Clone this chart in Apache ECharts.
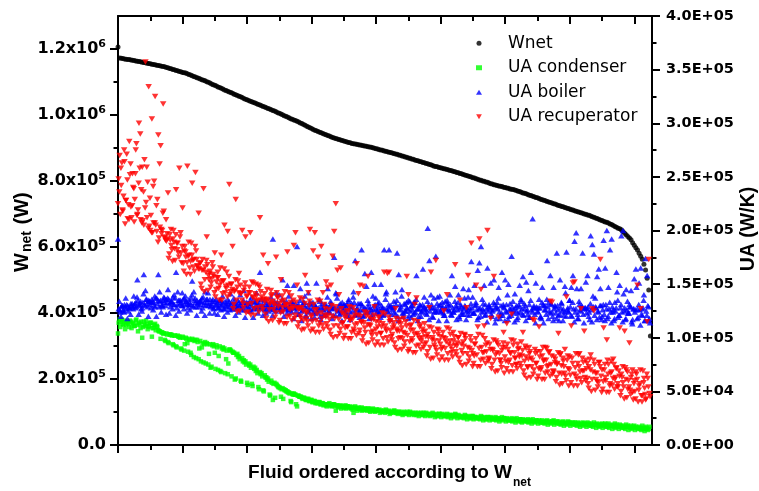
<!DOCTYPE html>
<html><head><meta charset="utf-8">
<script src="https://cdn.jsdelivr.net/npm/echarts@6/dist/echarts.min.js"></script>
<style>html,body{margin:0;padding:0;background:#fff}#c{width:759px;height:491px}</style>
</head><body><div id="c"></div>
<script>
// ---- data ----
const STEP = 5;            // fluid-index spacing of the sampled points
const OFFSET_B = 2;        // second sample set (fluids 2,7,12,...)
const OFFSET_C = 4;        // third sample set (fluids 4,9,14,...)
const X_MAX = 1655;        // number of fluids on the x axis
const xMajorTicks = [0,200,400,600,800,1000,1200,1400,1600];
const xMinorTicks = [100,300,500,700,900,1100,1300,1500];
const wnetTicks = [0,200000,400000,600000,800000,1000000,1200000];
const wnetMinorTicks = [100000,300000,500000,700000,900000,1100000];
const seriesNames = ['Wnet','UA condenser','UA boiler','UA recuperator'];

// Wnet in kW
const wnetKW = [1206,1173,
1172,1171,1170,1169,1168,1168,1167,1166,1165,1164,1163,1162,1161,1160,1159,
1158,1157,1156,1155,1154,1153,1152,1151,1150,1149,1148,1147,1146,
1144,1143,1141,1140,1138,1137,1135,1134,1132,1131,1129,1128,
1127,1125,1123,1121,1119,1117,1115,1113,1111,1109,1107,1105,1104,
1101,1099,1097,1094,1092,1090,1088,1085,1083,1081,1079,1076,
1074,1072,1070,1068,1066,1063,1061,1059,1057,1055,1053,1050,1048,1046,
1044,1042,1040,1038,1036,1034,1032,1030,1028,1026,1024,1022,1020,1018,1016,
1014,1012,1010,1007,1005,1003,1001,998,996,994,992,989,987,985,983,981,
979,976,974,971,969,966,964,961,959,956,954,
952,950,948,946,944,942,940,938,936,934,932,930,
929,927,926,924,923,921,920,918,917,916,914,913,912,
911,910,909,908,907,906,905,904,903,902,901,899,
898,897,895,894,893,891,890,889,887,886,885,883,882,
881,879,878,876,875,873,872,870,869,867,866,864,
862,861,859,858,856,855,853,852,850,849,847,845,
844,843,841,840,839,837,836,835,833,832,831,829,828,
826,825,823,822,820,818,817,815,814,812,810,809,807,805,
803,802,800,799,797,796,794,792,791,789,788,
786,785,784,783,781,780,779,778,776,775,774,773,
771,769,768,766,764,763,761,759,757,756,754,752,
750,749,747,745,743,742,740,738,736,735,733,731,730,
728,726,725,723,722,720,718,717,715,713,712,710,
708,707,705,704,702,700,699,697,696,694,692,690,
688,686,684,682,680,678,676,675,673,
670,668,665,662,660,657,655,652,
647,642,637,632,627,622,
613,605,598,591,
581,572,563,
548,530,505,470,330];

// UA values in kW/K, fluids 0,5,10,...
const uaCondenserKW = [104,117,115,113,116,112,114,110,115,113,111,116,112,114,109,100,115,111,113,110,114,101,109,113,111,
107,106,105,104,98,104,96,103,103,94,102,92,102,101,90,101,88,100,95,99,86,99,82,98,98,80,97,91,77,96,95,75,94,73,94,86,93,70,92,68,91,90,80,66,89,88,
87,86,62,85,83,60,81,79,78,58,76,75,57,73,72,70,54,68,67,51,65,63,62,47,60,42,58,57,55,54,45,53,52,51,50,49,41,48,48,47,36,46,
45,44,44,43,42,43,41,42,40,41,
40,39,40,38,39,38,37,38,39,37,
37,38,32,37,36,37,36,35,37,36,
35,36,35,30,36,34,35,34,35,33,
34,33,34,32,33,34,32,33,32,33,
32,31,32,33,31,32,30,31,32,31,
30,31,30,29,31,30,29,30,31,29,
30,29,28,30,29,30,28,29,30,28,
29,28,30,28,29,27,29,28,29,27,
28,29,27,28,27,28,29,27,28,26,
27,26,28,26,27,26,25,27,26,25,
26,25,27,25,26,24,26,25,26,24,
25,26,24,25,24,26,25,24,25,23,
24,25,23,24,25,23,24,22,24,23,
23,24,22,23,24,22,23,22,23,21,
23,22,21,23,22,21,22,23,21,22,
22,21,20,22,21,20,22,21,20,21,
21,20,21,19,20,21,20,19,21,20,
20,19,21,19,20,19,18,20,19,20,
19,20,18,19,18,20,19,17,19,18,
18,17,19,18,17,18,16,18,17,16,
17,16,18,15,17,16,15];
const uaCondenserKW_b = [114,110,117,112,108,115,113,116,109,114,111,117,106,113,115,110,112,116,108,111,114,109,112,107,110,
106,99,105,104,97,103,95,103,102,93,
102,91,101,100,89,100,94,99,87,98,
84,98,97,81,96,90,78,95,94,76,
94,85,72,93,92,71,91,83,69,90,
89,67,88,76,89,64,
86,61,84,82,80,59,78,77,75,56,
74,72,55,71,69,67,52,66,64,50,
63,61,59,46,58,57,44,56,54,53,
52,43,51,50,49,48,40,47,47,38,
46,45,
45,43,44,42,43,41,42,40,41,39,
39,40,38,39,37,38,36,38,37,36,
38,36,37,35,36,34,36,35,34,36,
35,34,33,35,34,32,34,33,32,34,
33,32,34,31,33,32,31,33,32,30,
31,32,30,32,31,29,31,30,32,30,
29,31,30,28,30,29,31,28,30,29,
28,30,29,27,29,28,30,27,29,28,
27,29,28,26,28,27,29,26,28,27,
27,26,28,25,27,26,28,25,27,26,
26,25,27,24,26,25,27,24,26,25,
25,24,26,23,25,24,26,23,25,24,
24,23,25,22,24,23,25,22,24,23,
23,22,24,21,23,22,24,21,23,22,
22,21,23,20,22,21,23,20,22,21,
21,20,22,19,21,20,22,19,21,20,
20,19,21,18,20,19,21,18,20,19,
19,18,20,17,19,18,20,17,19,18,
18,17,19,16,18,17,19,16,18,17,
17,16,18,15,17,16,18,15,17,16,
16,15,17,14,16,15,17,14,16,15,
15,14,16,13,15,14,17];

const uaBoilerKW = [192,
126,129,125,131,127,130,128,132,129,
130,133,154,131,134,128,159,144,132,135,
131,136,133,129,137,159,134,130,135,133,
136,145,132,134,138,131,161,143,135,133,
130,137,134,132,136,131,153,143,133,135,
129,134,137,131,143,133,130,136,132,128,
134,131,128,135,130,133,127,132,136,129,
131,127,134,130,128,133,131,126,144,130,
132,128,135,130,127,133,129,131,161,128,
130,126,133,129,131,127,192,134,142,129,
131,127,154,133,128,149,130,126,132,149,
128,185,131,146,125,133,129,151,142,127,
132,124,130,151,126,134,129,122,131,127,
146,125,132,128,175,142,126,130,123,133,
128,125,131,136,124,129,143,172,127,122,
132,182,126,160,148,129,124,161,139,150,
127,132,123,150,128,182,141,125,182,130,
126,134,143,179,159,127,145,123,131,128,
135,125,130,122,133,158,127,131,124,164,
129,126,202,172,140,128,124,176,138,130,
125,133,121,128,135,126,131,158,124,148,
129,140,127,122,146,130,125,138,128,171,
123,149,131,163,170,
185,127,149,122,165,131,151,125,154,128,
133,147,121,161,129,154,124,150,132,176,
126,141,130,123,149,134,157,127,152,122,
131,161,211,128,151,125,136,120,147,130,
126,172,133,158,124,147,129,179,121,154,
132,127,148,180,125,135,147,158,190,198,
122,131,146,179,127,152,158,124,195,187,
178,129,157,164,146,120,191,165,200,147,
182,192,126,133,161,119,149,195,200,128,
145,123,131,144,117,155,164,127,151,165,
121,140,174,158,116];
const uaBoilerKW_b = [127,124,130,126,129,131,125,128,130,127,
132,129,135,130,127,133,131,136,129,134,
128,134,130,137,132,129,135,131,138,130,
133,136,129,134,131,137,128,135,132,130,
136,131,134,128,133,137,130,135,129,132,
131,135,128,133,130,136,132,129,134,127,
130,133,128,135,131,127,134,129,132,126,
133,129,131,127,135,130,128,133,126,131,
129,132,126,134,128,130,127,133,129,131,
127,131,128,125,133,129,126,132,128,130,
128,125,131,127,134,126,129,124,132,128,
125,130,122,128,126,133,121,129,124,131,
127,123,130,125,128,120,132,126,122,129,
124,130,127,121,128,141,125,122,129,126,
131,123,127,120,129,125,133,122,128,124,
126,130,121,127,124,132,128,119,126,131,
123,128,125,130,121,127,143,124,129,122,
128,124,131,120,126,129,123,132,125,127,
121,129,126,133,124,127,120,130,125,128,
127,122,130,125,131,119,128,124,126,139,
124,129,121,127,132,125,122,128,126,130,
126,120,131,124,127,129,122,145,125,128,
123,130,126,119,128,124,132,121,127,125,
129,122,126,131,118,127,124,130,121,128,
125,140,120,126,129,123,128,117,131,124,
127,121,130,125,144,119,126,128,122,129,
124,128,118,131,126,122,129,125,132,120,
127,123,130,116,128,125,121,142,126,124,
129,120,127,124,146,118,126,130,122,128,
123,129,117,126,139,121,128,125,119,130,
126,122,131,118,127,124,129,116,125,143,
121,128,124,141,117,126,123,129,115,127,
124,147,119,126,122,128,116,125,130,118];
const uaBoilerKW_c = [134,120,130,124,137,118,128,122,132,139,
128,138,122,132,125,141,130,136,120,134,
133,126,139,120,135,143,124,129,137,122,
137,123,133,127,140,121,131,125,135,142,
127,139,123,131,126,140,129,137,121,133,
134,125,138,121,136,142,123,130,136,123,
136,122,132,126,139,120,130,124,134,141,
127,137,121,131,124,140,129,135,119,133,
132,125,138,119,134,142,123,128,136,121,
135,123,131,127,138,121,129,125,133,140,
126,136,120,130,123,139,128,134,118,132,
129,122,135,116,131,139,120,125,133,118,
133,119,129,123,136,117,127,121,131,138,
124,134,118,128,121,137,126,132,116,130,
130,121,134,117,132,138,121,126,132,119,
132,120,128,124,135,118,126,122,130,137,
125,133,119,127,122,136,127,131,117,129,
129,122,135,116,131,139,120,125,133,118,
134,119,130,123,136,116,127,120,131,138,
123,134,117,128,120,137,125,132,116,131,
128,123,134,116,130,140,121,124,134,117,
133,118,129,122,137,117,126,121,132,138,
123,133,117,127,120,136,125,131,115,129,
127,120,133,114,129,137,118,123,131,116,
131,117,127,121,134,115,125,119,129,136,
122,132,116,126,119,135,124,130,114,128,
128,119,133,114,130,136,118,123,131,116,
130,118,126,122,133,116,124,120,128,135,
121,133,115,127,118,134,125,129,114,128,
127,120,132,115,129,137,117,124,130,117,
131,116,127,120,133,114,124,118,128,135,
121,131,115,125,118,134,123,129,113,127,
126,118,131,112,127,135,116,121,129,114];

const uaRecuperatorKW = [225,270,242,218,264,228,211,283,222,253,208,275,215,300,210,259,205,357,212,334,200,304,207,325,199,289,203,197,318,193,
190,235,196,186,192,183,238,188,258,179,
221,181,175,260,177,171,244,173,254,167,
216,170,163,239,166,194,158,162,155,159,
179,152,156,149,177,153,205,146,199,243,
150,185,143,229,147,160,141,200,144,194,
139,142,198,152,137,141,135,149,212,138,
177,133,136,169,131,139,134,130,175,137,
132,154,128,135,131,180,127,133,129,186,
198,149,126,
120,128,116,158,123,142,201,119,181,198,
126,175,114,185,142,121,152,147,117,149,
176,199,225,163,140,165,113,122,118,110,
125,116,119,108,121,169,141,149,114,148,
109,120,157,112,117,106,129,115,110,119,
104,113,161,108,160,161,116,103,111,127,
106,114,100,109,118,104,157,140,111,99,
107,131,137,102,110,97,105,113,95,103,
128,161,100,93,172,108,97,101,91,125,
99,140,94,103,89,97,168,92,100,135,
88,96,102,128,158,90,188,85,94,149,
110,192,
145,86,111,93,200,80,118,89,157,84,
95,119,79,88,105,91,113,77,86,122,
93,81,75,89,84,96,105,78,90,72,
85,81,117,116,76,87,110,70,83,79,
91,73,86,134,133,68,80,75,104,84,
66,78,89,138,71,82,111,151,152,64,
76,85,127,69,106,79,62,73,84,127,
125,67,59,77,173,70,109,63,98,75,
57,68,80,61,72,54,109,66,58,106,
70,52,95,63,49,60,68,149,55,127,
46,62,42,115,173];
const uaRecuperatorKW_b = [248,215,263,232,206,271,224,252,212,240,
229,281,219,258,238,209,266,226,245,204,
214,198,246,205,229,193,279,200,218,191,
197,174,191,182,200,172,188,179,194,170,
169,185,159,176,165,188,172,162,181,167,
164,150,173,143,161,168,154,147,170,157,
138,156,146,165,135,153,142,161,149,140,
150,127,144,135,153,125,141,132,147,123,
131,147,121,138,127,150,134,124,143,129,
136,122,145,115,133,140,126,119,142,129,
116,134,124,143,113,131,120,139,127,118,
133,110,127,118,136,108,124,115,130,106,
115,131,105,122,111,134,118,108,127,113,
121,107,130,100,118,125,111,104,127,114,
102,120,110,129,99,117,106,125,113,104,
120,97,114,105,123,95,111,102,117,93,
103,119,93,110,99,122,106,96,115,101,
109,95,118,88,106,113,99,92,115,102,
89,107,97,116,86,104,93,112,100,91,
106,83,100,91,109,81,97,88,103,79,
89,105,79,96,85,108,92,82,101,87,
95,81,104,74,92,99,85,78,101,88,
76,94,84,103,73,91,80,99,87,78,
94,71,88,79,97,69,85,76,91,67,
78,94,68,85,74,97,81,71,90,76,
83,69,92,62,80,87,73,66,89,76,
64,82,72,91,61,79,68,87,75,66,
82,59,76,67,85,57,73,64,79,55,
65,81,55,72,61,84,68,58,77,63,
71,57,80,50,68,75,61,54,77,64,
52,70,60,79,49,67,56,75,63,54,
69,46,63,54,72,44,60,51,66,42,
50,66,40,57,46,69,53,43,62,48];
const uaRecuperatorKW_c = [236,258,219,275,228,247,210,262,223,239,
253,214,244,290,207,236,221,259,202,230,
198,241,207,223,189,262,201,216,194,210,
192,178,201,171,189,196,182,175,198,185,
162,180,170,189,159,177,166,185,173,164,
169,146,163,154,172,144,160,151,166,142,
145,161,135,152,141,164,148,138,157,143,
145,131,154,124,142,149,135,128,151,138,
124,142,132,151,121,139,128,147,135,126,
141,118,135,126,144,116,132,123,138,114,
123,139,113,130,119,142,126,116,135,121,
128,114,137,107,125,132,118,111,134,121,
108,126,116,135,105,123,112,131,119,110,
126,103,120,111,129,101,117,108,123,99,
109,125,99,116,105,128,112,102,121,107,
115,101,124,94,112,119,105,98,121,108,
96,114,104,123,93,111,100,119,107,98,
114,91,108,99,117,89,105,96,111,87,
96,112,86,103,92,115,99,89,108,94,
101,87,110,80,98,105,91,84,107,94,
82,100,90,109,79,97,86,105,93,84,
100,77,94,85,103,75,91,82,97,73,
83,99,73,90,79,102,86,76,95,81,
89,75,98,68,86,93,79,72,95,82,
71,89,79,98,68,86,75,94,82,73,
88,65,82,73,91,63,79,70,85,61,
71,87,61,78,67,90,74,64,83,69,
77,63,86,56,74,81,67,60,83,70,
58,76,66,85,55,73,62,81,69,60,
76,53,70,61,79,51,67,58,73,49,
59,75,49,66,55,78,62,52,71,57,
64,50,73,43,61,68,54,47,70,57,
43,61,51,70,40,58,47,66,54,45];

// ---- chart ----
const toPoints = (arr, off) => arr.map((v, i) => [i * STEP + off, v * 1000]);
const BLACK = '#000';
const lineStyle = { color: BLACK, width: 2 };
const tickStyle = { color: BLACK, width: 2 };

function fmtWnet(v) {
  if (v === 0) return '{m|0.0}';
  const e = Math.floor(Math.log10(v) + 1e-9);
  const m = v / Math.pow(10, e);
  return '{m|' + m.toFixed(1) + 'x10}{s|' + e + '}';
}
function fmtUA(v) {
  if (v === 0) return '0.0E+00';
  const e = Math.floor(Math.log10(v) + 1e-9);
  const m = v / Math.pow(10, e);
  return m.toFixed(1) + 'E+' + String(e).padStart(2, '0');
}
const FONT_LAB = 'DejaVu Sans';
const FONT_T = 'Liberation Sans';

function xAxisDef(pos, ticks, len, withLine) {
  return {
    type: 'value', position: pos, min: 0, max: X_MAX,
    axisLine: { show: withLine, onZero: false, lineStyle: lineStyle },
    axisTick: { show: true, inside: pos === 'top', length: len, lineStyle: tickStyle, customValues: ticks },
    axisLabel: { show: false }, splitLine: { show: false }
  };
}

const option = {
  animation: false,
  backgroundColor: '#fff',
  grid: { left: 118, right: 107, top: 16, bottom: 46, containLabel: false },
  xAxis: [
    xAxisDef('bottom', xMajorTicks, 8, true),
    xAxisDef('bottom', xMinorTicks, 5, false),
    xAxisDef('top', xMajorTicks, 8, true),
    xAxisDef('top', xMinorTicks, 5, false)
  ],
  yAxis: [
    {
      type: 'value', position: 'left', min: 0, max: 1300000,
      axisLine: { show: true, onZero: false, lineStyle: lineStyle },
      axisTick: { show: true, length: 8, lineStyle: tickStyle, customValues: wnetTicks },
      axisLabel: {
        customValues: wnetTicks, margin: 12, formatter: fmtWnet,
        rich: {
          m: { fontFamily: FONT_LAB, fontWeight: 'bold', fontSize: 16, color: BLACK, lineHeight: 20 },
          s: { fontFamily: FONT_LAB, fontWeight: 'bold', fontSize: 11, color: BLACK, lineHeight: 10, verticalAlign: 'top' }
        }
      },
      splitLine: { show: false }
    },
    {
      type: 'value', position: 'left', min: 0, max: 1300000,
      axisLine: { show: false },
      axisTick: { show: true, length: 4.5, lineStyle: tickStyle, customValues: wnetMinorTicks },
      axisLabel: { show: false }, splitLine: { show: false }
    },
    {
      type: 'value', position: 'right', min: 0, max: 400000, interval: 50000,
      axisLine: { show: true, onZero: false, lineStyle: lineStyle },
      axisTick: { show: true, length: 8, lineStyle: tickStyle },
      minorTick: { show: true, splitNumber: 2, length: 4.5, lineStyle: tickStyle },
      axisLabel: { formatter: fmtUA, margin: 14, fontFamily: FONT_LAB, fontWeight: 'bold', fontSize: 14.5, color: BLACK },
      splitLine: { show: false }, minorSplitLine: { show: false }
    }
  ],
  legend: {
    orient: 'vertical', left: 471, top: 26, itemWidth: 6, itemHeight: 5, itemGap: 0,
    symbolKeepAspect: true, selectedMode: false,
    textStyle: { fontFamily: FONT_LAB, fontSize: 17, color: BLACK, lineHeight: 24.5, padding: [0, 0, 0, 21] },
    data: [
      { name: seriesNames[0] },
      { name: seriesNames[1] },
      { name: seriesNames[2] },
      { name: seriesNames[3], icon: 'path://M0,0L10,0L5,8.66Z' }
    ]
  },
  series: [
    { name: seriesNames[0], type: 'scatter', xAxisIndex: 0, yAxisIndex: 0, symbol: 'circle', symbolSize: 5,
      itemStyle: { color: '#000000' }, data: toPoints(wnetKW, 0) },
    { name: seriesNames[1], type: 'scatter', xAxisIndex: 0, yAxisIndex: 2, symbol: 'rect', symbolSize: 4.5,
      itemStyle: { color: '#00ff00' }, data: toPoints(uaCondenserKW, 0).concat(toPoints(uaCondenserKW_b, OFFSET_B)) },
    { name: seriesNames[2], type: 'scatter', xAxisIndex: 0, yAxisIndex: 2, symbol: 'triangle', symbolSize: [6.5, 5.5],
      itemStyle: { color: '#0000ff' },
      data: toPoints(uaBoilerKW, 0).concat(toPoints(uaBoilerKW_b, OFFSET_B), toPoints(uaBoilerKW_c, OFFSET_C)) },
    { name: seriesNames[3], type: 'scatter', xAxisIndex: 0, yAxisIndex: 2, symbol: 'triangle', symbolRotate: 180, symbolSize: [6.5, 5.5],
      itemStyle: { color: '#ff0000' },
      data: toPoints(uaRecuperatorKW, 0).concat(toPoints(uaRecuperatorKW_b, OFFSET_B), toPoints(uaRecuperatorKW_c, OFFSET_C)) }
  ],
  graphic: [
    { type: 'text', x: 512, y: 473, silent: true,
      style: { text: 'Fluid ordered according to W', font: 'bold 19px "' + FONT_T + '"', fill: BLACK, align: 'right', textAlign: 'right', verticalAlign: 'middle', textVerticalAlign: 'middle' } },
    { type: 'text', x: 513, y: 483, silent: true,
      style: { text: 'net', font: 'bold 12px "' + FONT_T + '"', fill: BLACK, align: 'left', textAlign: 'left', verticalAlign: 'middle', textVerticalAlign: 'middle' } },
    { type: 'text', x: 22, y: 253, rotation: Math.PI / 2, silent: true,
      style: { text: 'W', font: 'bold 20px "' + FONT_T + '"', fill: BLACK, align: 'right', textAlign: 'right', verticalAlign: 'middle', textVerticalAlign: 'middle' } },
    { type: 'text', x: 27, y: 252, rotation: Math.PI / 2, silent: true,
      style: { text: 'net', font: 'bold 14px "' + FONT_T + '"', fill: BLACK, align: 'left', textAlign: 'left', verticalAlign: 'middle', textVerticalAlign: 'middle' } },
    { type: 'text', x: 22, y: 230, rotation: Math.PI / 2, silent: true,
      style: { text: ' (W)', font: 'bold 20px "' + FONT_T + '"', fill: BLACK, align: 'left', textAlign: 'left', verticalAlign: 'middle', textVerticalAlign: 'middle' } },
    { type: 'text', x: 749, y: 229, rotation: Math.PI / 2, silent: true,
      style: { text: 'UA (W/K)', font: 'bold 19.5px "' + FONT_T + '"', fill: BLACK, align: 'center', textAlign: 'center', verticalAlign: 'middle', textVerticalAlign: 'middle' } }
  ]
};
const chart = echarts.init(document.getElementById('c'), null, { renderer: 'canvas' });
chart.setOption(option);
</script>
</body></html>
